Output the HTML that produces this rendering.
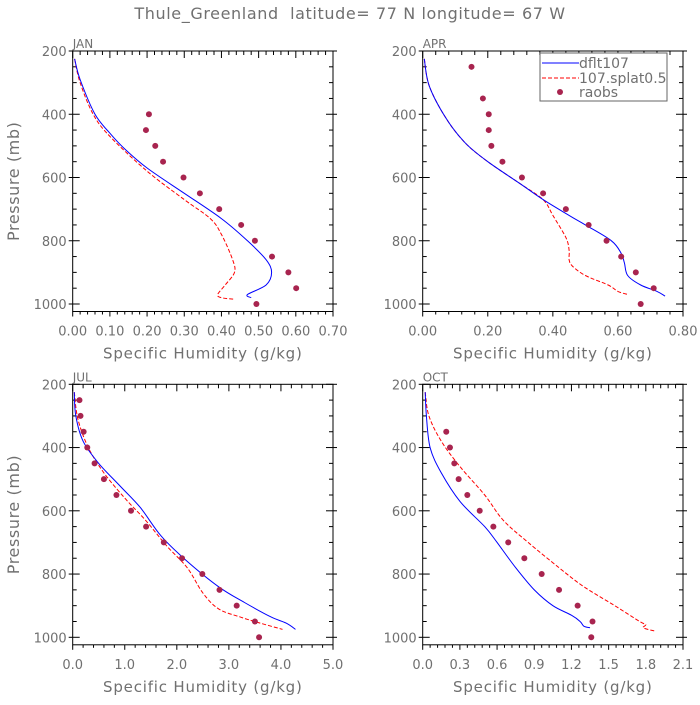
<!DOCTYPE html>
<html><head><meta charset="utf-8"><style>
body{margin:0;background:#fff}
svg text{font-family:"DejaVu Sans","Liberation Sans",sans-serif;fill:#707070;white-space:pre}
</style></head><body>
<svg id="c" width="700" height="700" viewBox="0 0 700 700">
<text x="350" y="19" text-anchor="middle" font-size="16" letter-spacing="0.6" xml:space="preserve">Thule_Greenland  latitude= 77 N longitude= 67 W</text>
</svg>
<script>
// Data arrays
const janBlue=[[0.005,225],[0.02,290],[0.06,400],[0.1,460],[0.14,510],[0.2,570],[0.3,650],[0.4,730],[0.47,800],[0.52,860],[0.535,900],[0.52,940],[0.47,970],[0.48,980]];
const janRed=[[0.005,225],[0.02,300],[0.055,400],[0.1,470],[0.2,580],[0.3,670],[0.37,730],[0.4,780],[0.43,860],[0.435,900],[0.41,940],[0.39,970],[0.40,980],[0.435,985]];
const janObsP=[400,450,500,550,600,650,700,750,800,850,900,950,1000];
const janObsQ=[0.205,0.197,0.222,0.243,0.298,0.342,0.394,0.453,0.49,0.536,0.58,0.601,0.494];
const aprBlue=[[0.005,225],[0.02,310],[0.07,410],[0.13,490],[0.2,550],[0.3,620],[0.37,670],[0.45,720],[0.5,750],[0.58,800],[0.61,840],[0.62,870],[0.63,910],[0.67,940],[0.72,960],[0.745,975]];
const aprRed=[[0.005,225],[0.02,310],[0.07,410],[0.13,490],[0.2,550],[0.3,620],[0.37,670],[0.4,720],[0.44,790],[0.45,830],[0.45,860],[0.46,880],[0.5,910],[0.57,940],[0.6,960],[0.63,970]];
const aprObsP=[250,350,400,450,500,550,600,650,700,750,800,850,900,950,1000];
const aprObsQ=[0.15,0.185,0.203,0.203,0.211,0.245,0.305,0.37,0.44,0.51,0.565,0.61,0.655,0.71,0.67];
const julBlue=[[0.03,225],[0.06,300],[0.2,380],[0.5,450],[0.9,520],[1.3,590],[1.7,680],[2.2,760],[2.8,840],[3.3,890],[3.8,935],[4.1,955],[4.28,975]];
const julRed=[[0.03,225],[0.1,310],[0.3,400],[0.6,480],[1.0,560],[1.4,630],[1.8,710],[2.2,780],[2.5,860],[2.8,910],[3.2,935],[3.6,955],[4.03,975]];
const julObsP=[250,300,350,400,450,500,550,600,650,700,750,800,850,900,950,1000];
const julObsQ=[0.13,0.15,0.21,0.28,0.42,0.6,0.84,1.12,1.41,1.75,2.1,2.49,2.82,3.15,3.5,3.58];
const octBlue=[[0.02,225],[0.03,300],[0.06,400],[0.15,480],[0.3,570],[0.5,650],[0.6,700],[0.75,780],[0.9,850],[1.05,900],[1.2,930],[1.27,950],[1.3,965],[1.35,970]];
const octRed=[[0.02,225],[0.05,300],[0.15,380],[0.3,460],[0.5,550],[0.65,630],[0.85,700],[1.1,780],[1.3,840],[1.55,900],[1.75,950],[1.8,960],[1.78,970],[1.87,980]];
const octObsP=[350,400,450,500,550,600,650,700,750,800,850,900,950,1000];
const octObsQ=[0.19,0.22,0.255,0.29,0.36,0.46,0.57,0.69,0.82,0.96,1.1,1.25,1.37,1.36];
const janTicks=["0.00","0.10","0.20","0.30","0.40","0.50","0.60","0.70"];
const aprTicks=["0.00","0.20","0.40","0.60","0.80"];
const julTicks=["0.0","1.0","2.0","3.0","4.0","5.0"];
const octTicks=["0.0","0.3","0.6","0.9","1.2","1.5","1.8","2.1"];
const pTicks=[200,400,600,800,1000];

const NS='http://www.w3.org/2000/svg';
const svg=document.getElementById('c');
function mk(t,a,p){const e=document.createElementNS(NS,t);for(const k in a)e.setAttribute(k,a[k]);(p||svg).appendChild(e);return e;}
function smooth(pts){let d='M'+pts[0][0].toFixed(1)+' '+pts[0][1].toFixed(1);
 for(let i=0;i<pts.length-1;i++){const p0=pts[Math.max(0,i-1)],p1=pts[i],p2=pts[i+1],p3=pts[Math.min(pts.length-1,i+2)];
  const c1=[p1[0]+(p2[0]-p0[0])/6,p1[1]+(p2[1]-p0[1])/6],c2=[p2[0]-(p3[0]-p1[0])/6,p2[1]-(p3[1]-p1[1])/6];
  d+=' C'+c1.map(v=>v.toFixed(1)).join(' ')+' '+c2.map(v=>v.toFixed(1)).join(' ')+' '+p2[0].toFixed(1)+' '+p2[1].toFixed(1);}
 return d;}

function panel(name,x0,x1,top,label,ticks,blue,red,obsP,obsQ,showY,legend){
 const y200=top,y1000=top+253,ybot=top+260.5;
 const xmax=parseFloat(ticks[ticks.length-1]);
 const X=q=>x0+(x1-x0)*q/xmax, Y=p=>y200+(p-200)*(y1000-y200)/800;
 const g=mk('g',{});
 
 
 const fr=mk('rect',{x:x0,y:y200,width:x1-x0,height:ybot-y200,fill:'none',stroke:'#000','stroke-width':1},g);
 
 
 const n=ticks.length-1,step=(x1-x0)/n;
 for(let i=0;i<=n;i++){
  const x=x0+i*step;
  mk('line',{x1:x,x2:x,y1:y200,y2:y200+7,stroke:'#000'},g);
  mk('line',{x1:x,x2:x,y1:ybot,y2:ybot+5,stroke:'#000'},g);
  const t=mk('text',{x:x,y:ybot+24,'text-anchor':'middle','font-size':13},g);t.textContent=ticks[i];
  
  
  if(i<n)for(let j=1;j<5;j++){const xm=x+j*step/5;mk('line',{x1:xm,x2:xm,y1:y200,y2:y200+4,stroke:'#000'},g);mk('line',{x1:xm,x2:xm,y1:ybot,y2:ybot+3,stroke:'#000'},g);}
 }
 for(let p=200;p<=1000;p+=50){const y=Y(p),maj=p%200==0;
  mk('line',{x1:x0-(maj?4:0),x2:x0+(maj?7:4),y1:y,y2:y,stroke:'#000'},g);
  mk('line',{x1:x1+(maj?4:0),x2:x1-(maj?7:4),y1:y,y2:y,stroke:'#000'},g);}
 pTicks.forEach(p=>{const t=mk('text',{x:x0-6,y:Y(p)+5,'text-anchor':'end','font-size':13},g);t.textContent=p;
  
  });
 const lb=mk('text',{x:x0,y:y200-3,'font-size':12},g);lb.textContent=label;
 
 
 const xt=mk('text',{x:(x0+x1)/2,y:ybot+47,'text-anchor':'middle','font-size':15,'letter-spacing':'0.8'},g);xt.textContent='Specific Humidity (g/kg)';
 
 
 if(showY){const yt=mk('text',{x:0,y:0,'text-anchor':'middle','font-size':16,'letter-spacing':'0.6',transform:`translate(19,${(y200+ybot)/2}) rotate(-90)`},g);yt.textContent='Pressure (mb)';
  
  }
 const r=mk('path',{d:smooth(red.map(d=>[X(d[0]),Y(d[1])])),fill:'none',stroke:'#ff0000','stroke-width':1,'stroke-dasharray':'4,2'},g);
 
 
 const b=mk('path',{d:smooth(blue.map(d=>[X(d[0]),Y(d[1])])),fill:'none',stroke:'#0000ff','stroke-width':1},g);
 
 
 obsP.forEach((p,i)=>{const c=mk('circle',{cx:X(obsQ[i]),cy:Y(p),r:3,fill:'#a8244f'},g);
  
  });
 if(legend){const lg=mk('g',{},g);
  
  
  mk('rect',{x:540,y:53,width:127,height:48,fill:'#fff',stroke:'#666'},lg);
  mk('line',{x1:542,x2:579,y1:63,y2:63,stroke:'#0000ff'},lg);
  mk('line',{x1:542,x2:579,y1:78,y2:78,stroke:'#ff0000','stroke-dasharray':'4,2'},lg);
  mk('circle',{cx:560,cy:92,r:3,fill:'#a8244f'},lg);
  [['dflt107',68],['107.splat0.5',83],['raobs',97]].forEach(([s,y])=>{const t=mk('text',{x:579,y:y,'font-size':14},lg);t.textContent=s;
   
   });}
}
panel('jan',72.7,333,51,'JAN',janTicks,janBlue,janRed,janObsP,janObsQ,true,false);
panel('apr',422.7,683,51,'APR',aprTicks,aprBlue,aprRed,aprObsP,aprObsQ,false,true);
panel('jul',72.7,333,384.3,'JUL',julTicks,julBlue,julRed,julObsP,julObsQ,true,false);
panel('oct',422.7,683,384.3,'OCT',octTicks,octBlue,octRed,octObsP,octObsQ,false,false);
</script>
</body></html>
